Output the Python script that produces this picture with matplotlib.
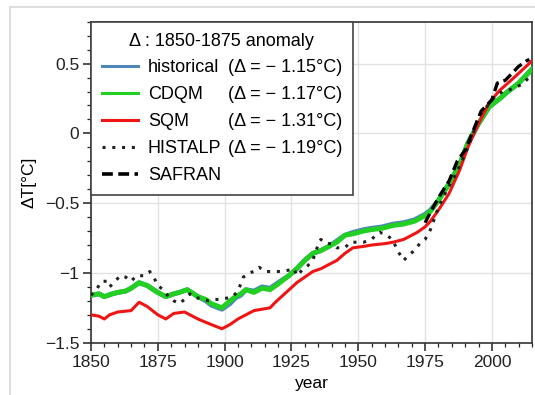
import numpy as np
import matplotlib
matplotlib.use("Agg")
import matplotlib.pyplot as plt
from matplotlib.lines import Line2D
from matplotlib.ticker import MultipleLocator, FuncFormatter

plt.rcParams['font.family'] = ['Liberation Sans', 'DejaVu Sans']

# --- data ---
model_years = [1850, 1853, 1855, 1858, 1860, 1863, 1865, 1868, 1871, 1875,
               1878, 1881, 1883, 1886, 1890, 1893, 1895, 1899, 1902, 1904,
               1906, 1908, 1911, 1914, 1917, 1920, 1924, 1927, 1930, 1933,
               1936, 1939, 1942, 1945, 1948, 1952, 1955, 1959, 1963, 1967,
               1971, 1975, 1977, 1980, 1984, 1988, 1991, 1995, 1999, 2003,
               2006, 2010, 2015]
historical = [-1.16, -1.15, -1.17, -1.15, -1.14, -1.13, -1.11, -1.07, -1.09, -1.14,
              -1.17, -1.15, -1.14, -1.12, -1.17, -1.20, -1.23, -1.26, -1.22, -1.18,
              -1.16, -1.12, -1.13, -1.10, -1.11, -1.07, -1.02, -0.97, -0.91, -0.86,
              -0.84, -0.81, -0.77, -0.73, -0.71, -0.69, -0.68, -0.67, -0.65, -0.64,
              -0.62, -0.58, -0.55, -0.48, -0.36, -0.22, -0.07, 0.07, 0.19, 0.25,
              0.30, 0.36, 0.46]
cdqm = [-1.16, -1.15, -1.17, -1.15, -1.14, -1.13, -1.11, -1.07, -1.09, -1.14,
        -1.17, -1.15, -1.14, -1.12, -1.17, -1.19, -1.22, -1.25, -1.20, -1.17,
        -1.15, -1.12, -1.14, -1.11, -1.12, -1.08, -1.02, -0.97, -0.91, -0.86,
        -0.84, -0.81, -0.78, -0.73, -0.72, -0.70, -0.69, -0.68, -0.66, -0.65,
        -0.63, -0.59, -0.56, -0.48, -0.36, -0.22, -0.07, 0.07, 0.19, 0.25,
        0.30, 0.36, 0.46]

sqm_years = [1850, 1853, 1855, 1857, 1860, 1865, 1868, 1871, 1875, 1878,
             1881, 1885, 1890, 1895, 1899, 1902, 1905, 1908, 1911, 1914,
             1917, 1919, 1923, 1927, 1930, 1933, 1936, 1939, 1942, 1945,
             1948, 1952, 1955, 1960, 1963, 1967, 1972, 1975, 1977, 1980,
             1984, 1988, 1991, 1995, 1999, 2003, 2006, 2010, 2015]
sqm = [-1.30, -1.31, -1.33, -1.30, -1.28, -1.27, -1.21, -1.24, -1.30, -1.33,
       -1.29, -1.28, -1.33, -1.37, -1.40, -1.37, -1.33, -1.30, -1.27, -1.26,
       -1.25, -1.21, -1.14, -1.07, -1.03, -0.99, -0.97, -0.94, -0.91, -0.86,
       -0.82, -0.81, -0.80, -0.79, -0.78, -0.76, -0.71, -0.67, -0.63, -0.55,
       -0.43, -0.26, -0.10, 0.07, 0.22, 0.31, 0.36, 0.43, 0.52]

histalp_years = [1850, 1852, 1854, 1856, 1857, 1859, 1861, 1863, 1865, 1867,
                 1870, 1872, 1874, 1875, 1877, 1879, 1881, 1883, 1885, 1887,
                 1889, 1891, 1894, 1896, 1898, 1901, 1903, 1905, 1906, 1907,
                 1909, 1911, 1913, 1915, 1918, 1921, 1924, 1926, 1927, 1929,
                 1931, 1933, 1934, 1935, 1936, 1938, 1940, 1942, 1945, 1947,
                 1950, 1952, 1955, 1957, 1958, 1960, 1962, 1963, 1965, 1967,
                 1969, 1971, 1973, 1975, 1977, 1980, 1983, 1986, 1989, 1991,
                 1993, 1995, 1998, 2001, 2004, 2008, 2011, 2014]
histalp = [-1.16, -1.12, -1.06, -1.06, -1.10, -1.06, -1.02, -1.03, -1.06, -1.02,
           -1.02, -0.99, -1.05, -1.09, -1.12, -1.17, -1.20, -1.22, -1.19, -1.15,
           -1.18, -1.18, -1.20, -1.19, -1.19, -1.18, -1.17, -1.13, -1.08, -1.03,
           -1.00, -0.99, -0.96, -0.99, -0.99, -0.99, -0.98, -0.97, -1.02, -0.98,
           -0.95, -0.91, -0.85, -0.80, -0.76, -0.79, -0.79, -0.82, -0.82, -0.78,
           -0.78, -0.78, -0.76, -0.72, -0.71, -0.72, -0.75, -0.77, -0.85, -0.91,
           -0.87, -0.84, -0.79, -0.76, -0.69, -0.53, -0.41, -0.31, -0.19, -0.10,
           0.00, 0.12, 0.19, 0.26, 0.30, 0.32, 0.35, 0.40]

safran_years = [1975, 1978, 1981, 1984, 1987, 1990, 1993, 1996, 2000, 2002,
                2005, 2008, 2010, 2013, 2014]
safran = [-0.64, -0.53, -0.43, -0.34, -0.20, -0.12, 0.02, 0.16, 0.24, 0.36,
          0.38, 0.44, 0.48, 0.52, 0.53]

names = ['historical', 'CDQM', 'SQM', 'HISTALP', 'SAFRAN']
deltas = ['(Δ = − 1.15°C)', '(Δ = − 1.17°C)', '(Δ = − 1.31°C)', '(Δ = − 1.19°C)']

fig = plt.figure(figsize=(5.35, 3.95), dpi=100)
ax = fig.add_axes([0.170, 0.1324, 0.8244, 0.8126])

ax.grid(True, which='major', color='#e2e2e2', linewidth=1.0, zorder=0)
ax.set_axisbelow(True)

h1, = ax.plot(model_years, historical, color='#4f86b8', lw=3.5, zorder=2)
h2, = ax.plot(model_years, cdqm, color='#22d022', lw=3.5, zorder=3)
h3, = ax.plot(sqm_years, sqm, color='#f01515', lw=2.2, zorder=4)
h4, = ax.plot(histalp_years, histalp, color='#222222', lw=2.2,
              linestyle=(0, (1, 2.2)), zorder=5)
h5, = ax.plot(safran_years, safran, color='black', lw=2.4,
              linestyle=(0, (3, 1.5)), zorder=6)

ax.set_xlim(1850, 2015)
ax.set_ylim(-1.5, 0.8)
ax.xaxis.set_major_locator(MultipleLocator(25))
ax.xaxis.set_minor_locator(MultipleLocator(5))
ax.yaxis.set_major_locator(MultipleLocator(0.5))
ax.yaxis.set_minor_locator(MultipleLocator(0.1))
ax.yaxis.set_major_formatter(FuncFormatter(lambda v, p: ('%g' % v).replace('-', '−')))
ax.tick_params(which='major', direction='out', length=5.5, width=1.1, labelsize=12.5,
               colors='#222222', pad=3)
ax.tick_params(which='minor', direction='out', length=3, width=0.9, colors='#222222')
for s in ax.spines.values():
    s.set_color('#333333')
    s.set_linewidth(1.2)

ax.set_xlabel('year', fontsize=12.5, labelpad=5)
ax.set_ylabel('ΔT[°C]', fontsize=12.5, labelpad=6)

blank = Line2D([], [], linestyle='none')
handles = [h1, h2, h3, h4, h5] + [blank] * 5
labels = names + deltas + ['']
leg = ax.legend(handles, labels, ncol=2, loc='upper left', borderaxespad=0,
                title='Δ : 1850-1875 anomaly', title_fontsize=13, fontsize=13,
                handlelength=2.0, handletextpad=0.55, columnspacing=-2.2,
                labelspacing=0.55, borderpad=0.6,
                frameon=True, fancybox=False, framealpha=1, edgecolor='#444444')
leg.get_frame().set_linewidth(1.2)
leg.set_zorder(10)
for lh, w in zip(leg.legend_handles[:5], [2.2, 2.2, 2.2, 2.2, 2.6]):
    lh.set_linewidth(w)

# light frame around the figure, like the source image
fig.add_artist(Line2D([10 / 535, 10 / 535], [0, 1 - 7 / 395], transform=fig.transFigure,
                      color='#dedede', lw=1.5))
fig.add_artist(Line2D([10 / 535, 1], [1 - 7 / 395, 1 - 7 / 395], transform=fig.transFigure,
                      color='#dedede', lw=1.5))

fig.savefig('out.png', dpi=100)
